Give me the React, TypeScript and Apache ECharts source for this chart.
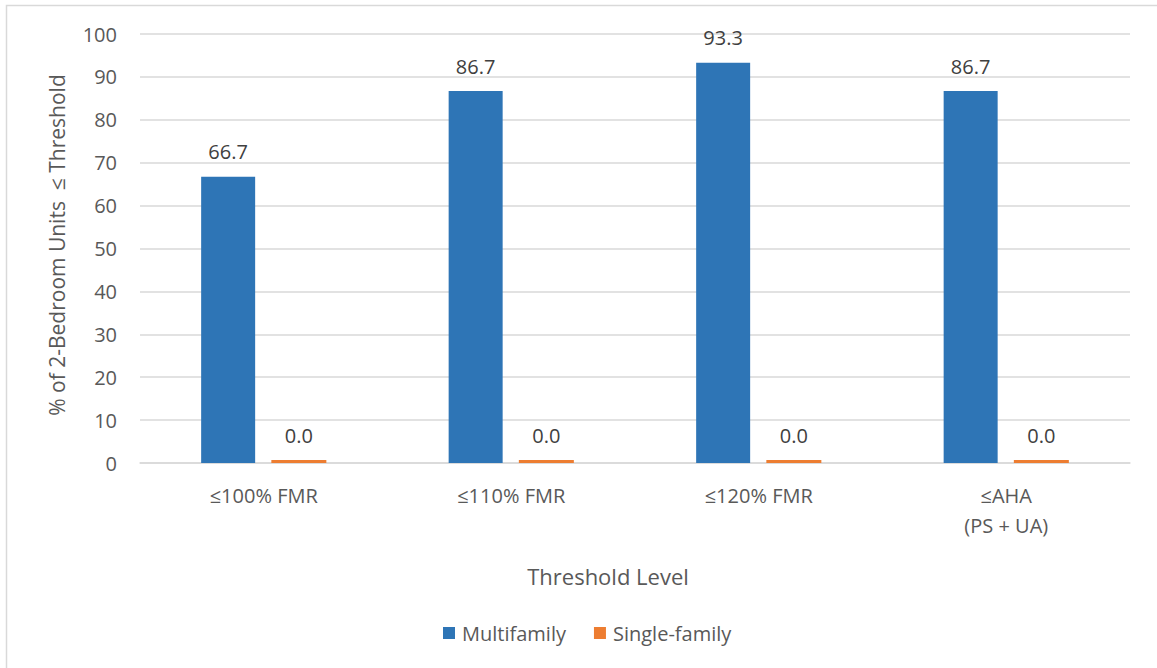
import React, { useEffect, useRef } from "react";
import * as echarts from "echarts";

const categories = ["≤100% FMR", "≤110% FMR", "≤120% FMR", "≤AHA\n(PS + UA)"];
const multifamily = [66.7, 86.7, 93.3, 86.7];
const singleFamily = [0.0, 0.0, 0.0, 0.0];
const yTicks = [0, 10, 20, 30, 40, 50, 60, 70, 80, 90, 100];

const FONT = "'Open Sans', 'Noto Sans', sans-serif";

export default function App() {
  const ref = useRef<HTMLDivElement>(null);
  useEffect(() => {
    if (!ref.current) return;
    const chart = echarts.init(ref.current, undefined, { renderer: "svg" });
    chart.setOption({
      animation: false,
      backgroundColor: "#ffffff",
      textStyle: { fontFamily: FONT },
      graphic: [
        {
          type: "rect",
          shape: { x: 6.5, y: 5.5, width: 1200, height: 700 },
          style: { fill: "none", stroke: "#d9d9d9", lineWidth: 1.5 },
          silent: true,
        },
        {
          type: "text",
          x: 57,
          y: 245,
          rotation: Math.PI / 2,
          style: {
            text: "% of 2-Bedroom Units  ≤ Threshold",
            fill: "#595959",
            font: `21px ${FONT}`,
            align: "center",
            verticalAlign: "middle",
          },
        },
        {
          type: "text",
          x: 608,
          y: 576,
          style: {
            text: "Threshold Level",
            fill: "#595959",
            font: `22px ${FONT}`,
            align: "center",
            verticalAlign: "middle",
          },
        },
      ],
      legend: {
        top: 618,
        left: 438,
        itemWidth: 12,
        itemHeight: 12,
        itemGap: 28,
        icon: "rect",
        textStyle: { fontSize: 20, color: "#595959", fontFamily: FONT, padding: [0, 0, 0, 2] },
        data: ["Multifamily", "Single-family"],
      },
      grid: { left: 140, right: 27, top: 34, bottom: 205, containLabel: false },
      xAxis: {
        type: "category",
        data: categories,
        axisLine: { lineStyle: { color: "#d9d9d9", width: 1.5 } },
        axisTick: { show: false },
        axisLabel: { fontSize: 20, color: "#595959", margin: 17, lineHeight: 30, fontFamily: FONT },
      },
      yAxis: {
        type: "value",
        min: 0,
        max: 100,
        interval: 10,
        axisLine: { show: false },
        axisTick: { show: false },
        splitLine: { lineStyle: { color: "#d9d9d9", width: 1.5 } },
        axisLabel: {
          fontSize: 20,
          color: "#595959",
          margin: 23,
          fontFamily: FONT,
          formatter: (v: number) => (yTicks.includes(v) ? String(v) : ""),
        },
      },
      series: [
        {
          name: "Multifamily",
          type: "bar",
          data: multifamily,
          barWidth: 54,
          barGap: "30%",
          itemStyle: { color: "#2e75b6" },
          label: {
            show: true,
            position: "top",
            distance: 15,
            fontSize: 20,
            color: "#404040",
            fontFamily: FONT,
            formatter: (p: any) => Number(p.value).toFixed(1),
          },
        },
        {
          name: "Single-family",
          type: "bar",
          data: singleFamily,
          barWidth: 55,
          barMinHeight: 3,
          itemStyle: { color: "#ed7d31" },
          label: {
            show: true,
            position: "top",
            distance: 15,
            fontSize: 20,
            color: "#404040",
            fontFamily: FONT,
            formatter: (p: any) => Number(p.value).toFixed(1),
          },
        },
      ],
    });
    return () => chart.dispose();
  }, []);
  return (
    <div
      ref={ref}
      style={{ position: "fixed", left: 0, top: 0, width: 1157, height: 668 }}
    />
  );
}
